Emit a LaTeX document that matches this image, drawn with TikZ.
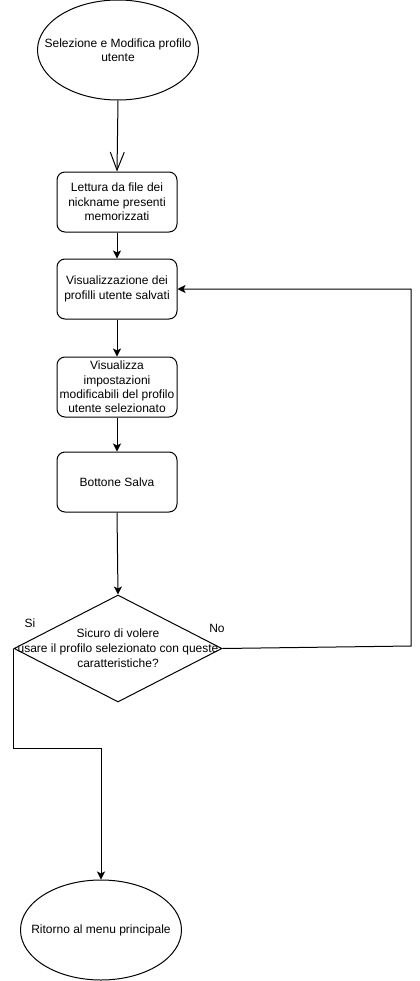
\documentclass[tikz,border=0pt]{standalone}
\usepackage{fontspec}
\setmainfont{Liberation Sans}
\usetikzlibrary{shapes.geometric,arrows.meta}
\begin{document}
\begin{tikzpicture}[x=0.75pt,y=-0.75pt,
  every node/.style={font=\fontsize{9}{10.8}\selectfont, align=center},
  stepbox/.style={draw, rounded corners=6pt, minimum width=90pt,
    minimum height=45pt, inner sep=0pt, line width=0.75pt},
  terminal/.style={draw, ellipse, minimum width=120.75pt,
    minimum height=75pt, inner sep=0pt, line width=0.75pt},
  decision/.style={draw, diamond, minimum width=156pt,
    minimum height=80.25pt, inner sep=0pt, line width=0.75pt},
  flow/.style={-{Stealth[length=6pt,width=6pt,inset=1.5pt]}, line width=0.75pt},
  openflow/.style={-{Straight Barb[length=13.5pt,width=10.5pt]}, line width=0.75pt}]

  \useasboundingbox (0,0) rectangle (420,981);

  %% start / end
  \node[terminal, label={[align=center]center:Selezione e Modifica profilo\\utente}]
  (start) at (118,50) {};
  \node[terminal, label={center:Ritorno al menu principale}]
  (back) at (101,930) {};

  %% steps
  \node[stepbox] (read) at (117,202) {Lettura da file dei\\nickname presenti\\memorizzati};
  \node[stepbox] (list) at (117,289) {Visualizzazione dei\\profilli utente salvati};
  \node[stepbox] (show) at (117,387) {Visualizza\\impostazioni\\modificabili del profilo\\utente selezionato};
  \node[stepbox] (save) at (117,482) {Bottone Salva};

  \node[decision, label={[align=center, font=\fontsize{9}{11.25}\selectfont]center:Sicuro di volere\\usare il profilo selezionato con queste\\caratteristiche?}]
  (ask) at (118,648.5) {};

  \node (yes) at (30,623) {Si};
  \node (no) at (217,628) {No};

  \coordinate (noturn) at (411,646);
  \coordinate (yesturn) at (101,748);

  \draw[openflow] (start.south) -- (read.north);
  \draw[flow] (read) -- (list);
  \draw[flow] (list) -- (show);
  \draw[flow] (show) -- (save);
  \draw[flow] (save.south) -- (ask.north);

  \draw[flow] (ask.east) -- (noturn) |- (list.east); %% no -> back to list
  \draw[flow] (ask.west) |- (yesturn) -- (back.north); %% si -> menu

\end{tikzpicture}
\end{document}
